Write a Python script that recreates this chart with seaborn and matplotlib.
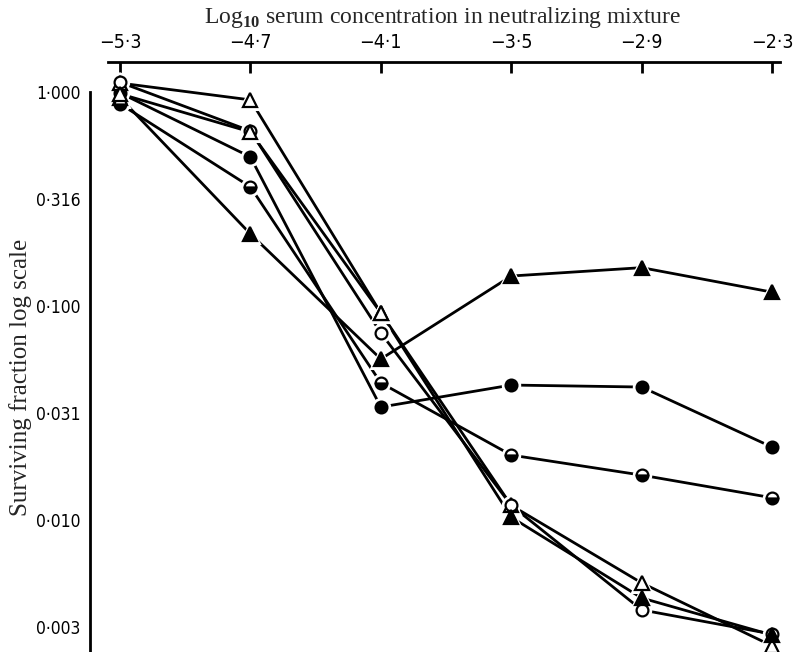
import numpy as np
import pandas as pd
import matplotlib
matplotlib.use("Agg")
import matplotlib.pyplot as plt
import seaborn as sns
from matplotlib.ticker import FixedLocator, FixedFormatter, NullLocator

# ---------------- data ----------------
log_conc = [-5.3, -4.7, -4.1, -3.5, -2.9, -2.3]
x_tick_labels = ["\u22125\u00b73", "\u22124\u00b77", "\u22124\u00b71",
                 "\u22123\u00b75", "\u22122\u00b79", "\u22122\u00b73"]
y_tick_values = [1.0, 0.3162, 0.1, 0.03162, 0.01, 0.003162]
y_tick_labels = ["1\u00b7000", "0\u00b7316", "0\u00b7100", "0\u00b7031", "0\u00b7010", "0\u00b7003"]

filled_triangle = [0.94, 0.217, 0.0565, 0.138, 0.151, 0.116]
filled_circle = [0.99, 0.497, 0.0337, 0.0427, 0.0418, 0.0219]
half_circle = [0.88, 0.36, 0.0437, 0.0201, 0.0162, 0.0127]
open_triangle = [1.10, 0.918, 0.0927, 0.0117, 0.00508, 0.00258]
open_circle = [1.11, 0.657, 0.0748, 0.0117, 0.0038, 0.00293]
mixed_triangle = [0.98, 0.65, 0.0927, 0.0103, 0.00432, 0.0029]

series = {
    "filled_triangle": filled_triangle,
    "filled_circle": filled_circle,
    "half_circle": half_circle,
    "open_triangle": open_triangle,
    "open_circle": open_circle,
    "mixed_triangle": mixed_triangle,
}
df = pd.concat(
    [pd.DataFrame({"x": log_conc, "y": v, "series": k}) for k, v in series.items()],
    ignore_index=True,
)

# ---------------- styles ----------------
TRI = dict(marker="^", markersize=10)
CIR = dict(marker="o", markersize=8.5)
styles = {
    "filled_triangle": [(slice(0, 6), dict(**TRI, markerfacecolor="black"))],
    "filled_circle": [(slice(0, 6), dict(**CIR, markerfacecolor="black"))],
    "half_circle": [(slice(0, 6), dict(**CIR, fillstyle="bottom",
                                       markerfacecolor="black",
                                       markerfacecoloralt="white"))],
    "open_triangle": [(slice(0, 6), dict(**TRI, markerfacecolor="white"))],
    "open_circle": [(slice(0, 6), dict(**CIR, markerfacecolor="white"))],
    "mixed_triangle": [(slice(0, 3), dict(**TRI, markerfacecolor="white")),
                       (slice(3, 6), dict(**TRI, markerfacecolor="black"))],
}

sns.set_style("white")
plt.rcParams["mathtext.fontset"] = "custom"
plt.rcParams["mathtext.rm"] = "Liberation Serif"
plt.rcParams["mathtext.bf"] = "Liberation Serif:bold"

fig = plt.figure(figsize=(7.96, 6.52), dpi=100)
ax = fig.add_axes([90 / 796, 0.0, 706 / 796, 590 / 652])
ax.set_yscale("log")
ax.set_xlim(-5.438, -2.19)
ax.set_ylim(0.002416, 1.38)

for name in series:
    sub = df[df["series"] == name].reset_index(drop=True)
    sns.lineplot(data=sub, x="x", y="y", ax=ax, color="black", lw=2.0,
                 estimator=None, sort=False, errorbar=None, legend=False, zorder=2)
    for sl, st in styles[name]:
        part = sub.iloc[sl]
        halo = dict(st)
        halo.update(markerfacecolor="white", markeredgecolor="white",
                    markerfacecoloralt="white", markersize=st["markersize"] + 4)
        sns.lineplot(data=part, x="x", y="y", ax=ax, linestyle="", color="white",
                     estimator=None, sort=False, errorbar=None, legend=False,
                     zorder=3, markeredgewidth=1.5, **halo)
        sns.lineplot(data=part, x="x", y="y", ax=ax, linestyle="", color="black",
                     estimator=None, sort=False, errorbar=None, legend=False,
                     zorder=4, markeredgecolor="black", markeredgewidth=1.6, **st)

# ---------------- axes styling ----------------
for s in ["right", "bottom"]:
    ax.spines[s].set_visible(False)
ax.spines["top"].set_bounds(-5.355, -2.263)
ax.spines["left"].set_bounds(0.002416, 1.0)
for s in ["top", "left"]:
    ax.spines[s].set_linewidth(2.0)
    ax.spines[s].set_color("black")

ax.xaxis.tick_top()
ax.xaxis.set_major_locator(FixedLocator(log_conc))
ax.xaxis.set_major_formatter(FixedFormatter(x_tick_labels))
ax.yaxis.set_major_locator(FixedLocator(y_tick_values))
ax.yaxis.set_major_formatter(FixedFormatter(y_tick_labels))
ax.yaxis.set_minor_locator(NullLocator())
ax.tick_params(axis="x", direction="in", length=8, width=2.0, pad=7,
               labelsize=14, colors="black")
ax.tick_params(axis="y", direction="in", length=8, width=2.0, pad=7,
               labelsize=12.5, colors="black")
for lab in ax.get_xticklabels() + ax.get_yticklabels():
    lab.set_family("DejaVu Sans")
    lab.set_stretch("condensed")
ax.set_xlabel("")
ax.set_ylabel("")

fig.text(443 / 796, 1 - 17 / 652,
         r"Log$_{\mathbf{10}}$ serum concentration in neutralizing mixture",
         ha="center", va="center", fontsize=17, family="Liberation Serif")
fig.text(21 / 796, 1 - 377 / 652, "Surviving fraction log scale",
         ha="center", va="center", rotation=90, fontsize=18,
         family="Liberation Serif")

fig.savefig("out.png", dpi=100)
